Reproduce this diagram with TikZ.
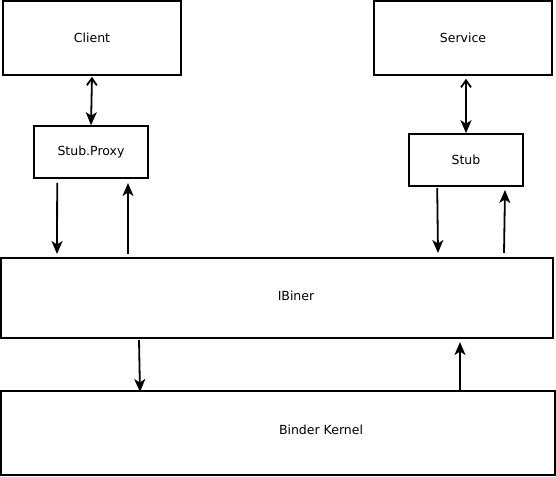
\documentclass[tikz,border=0pt]{standalone}
\usepackage{fontspec}
\setmainfont{DejaVu Sans}
\usetikzlibrary{arrows.meta}
\begin{document}
\begin{tikzpicture}[x=1pt,y=-1pt,
  box/.style={draw,line width=1.6pt,font=\fontsize{12.5}{14}\selectfont},
  conn/.style={line width=1.8pt,-{Stealth[length=13pt,width=11pt,inset=3.5pt]}},
  biconn/.style={line width=1.8pt,{Straight Barb[length=7pt,width=10pt]}-{Stealth[length=13pt,width=11pt,inset=3.5pt]}}]
\useasboundingbox (0,0) rectangle (556,476);
\node[box,minimum width=178pt,minimum height=74pt] (client) at (92,38) {Client};
\node[box,minimum width=178pt,minimum height=74pt] (service) at (463,38) {Service};
\node[box,minimum width=114pt,minimum height=52pt] (proxy) at (91,152) {Stub.Proxy};
\node[box,minimum width=114pt,minimum height=52pt] (stub) at (466,160) {Stub};
\node[box,minimum width=552pt,minimum height=80pt,label={[font=\fontsize{12.5}{14}\selectfont,xshift=19pt,yshift=2pt]center:IBiner}] (ibiner) at (277,298) {};
\node[box,minimum width=554pt,minimum height=84pt,label={[font=\fontsize{12.5}{14}\selectfont,xshift=43pt,yshift=3pt]center:Binder Kernel}] (kernel) at (278,433) {};
\draw[biconn] (client.south) ++(0,1) -- (proxy.north);
\draw[biconn] (service.south) ++(3,3) coordinate (s1) -- (stub.north);
\draw[conn] (proxy.south west) ++(24,4) -- (57,254);
\draw[conn] (128,254) -- (128,183);
\draw[conn] (stub.south west) ++(29,1) -- (438,253);
\draw[conn] (504,253) -- (505,190);
\draw[conn] (139,340) -- (140,392);
\draw[conn] (460,391) -- (460,342);
\end{tikzpicture}
\end{document}
